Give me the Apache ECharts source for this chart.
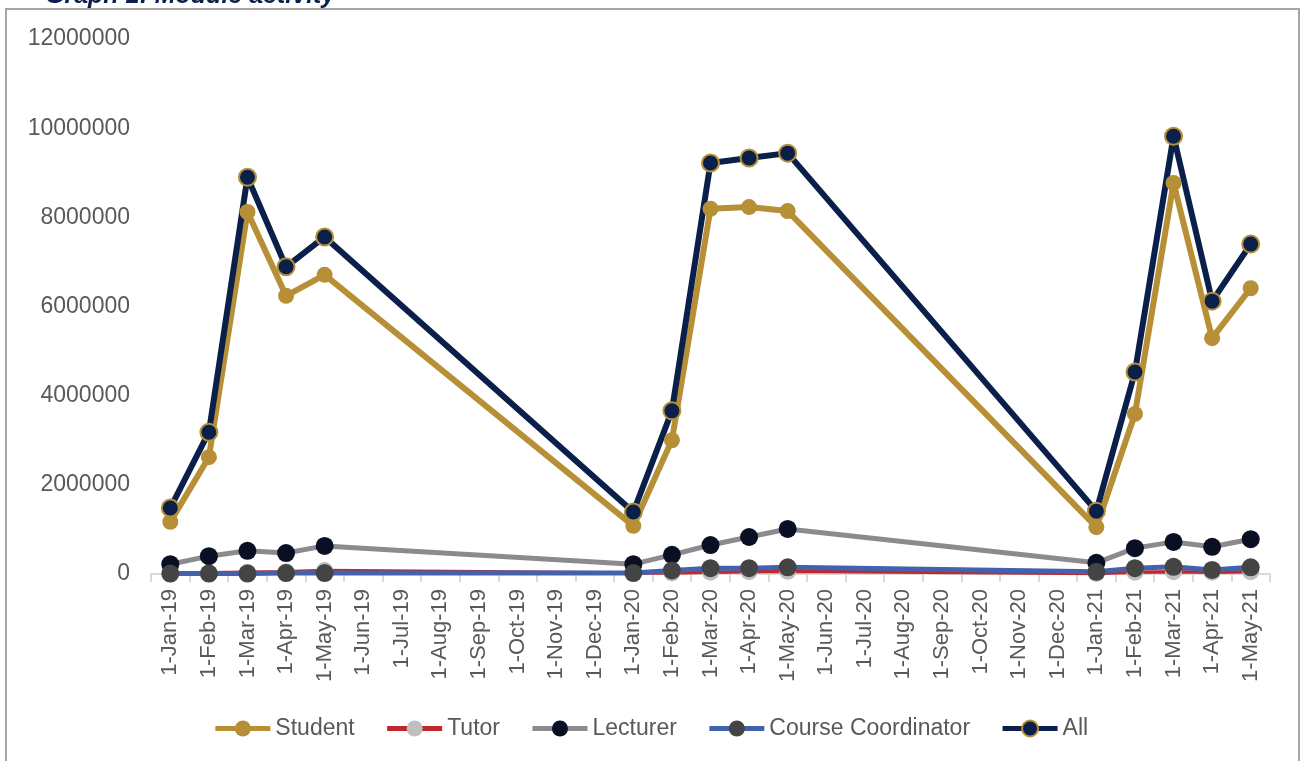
<!DOCTYPE html>
<html>
<head>
<meta charset="utf-8">
<script src="https://cdn.jsdelivr.net/npm/echarts@6/dist/echarts.min.js"></script>
<style>
html,body{margin:0;padding:0;background:#fff;}
#chart{width:1301px;height:761px;}
</style>
</head>
<body>
<div id="chart"></div>
<script>
var titleText = 'Graph 1: Module activity';
var categories = ['1-Jan-19','1-Feb-19','1-Mar-19','1-Apr-19','1-May-19','1-Jun-19','1-Jul-19','1-Aug-19','1-Sep-19','1-Oct-19','1-Nov-19','1-Dec-19',
  '1-Jan-20','1-Feb-20','1-Mar-20','1-Apr-20','1-May-20','1-Jun-20','1-Jul-20','1-Aug-20','1-Sep-20','1-Oct-20','1-Nov-20','1-Dec-20',
  '1-Jan-21','1-Feb-21','1-Mar-21','1-Apr-21','1-May-21'];
var yTicks = [0, 2000000, 4000000, 6000000, 8000000, 10000000, 12000000];
var _ = null;
var student = [1170000,2620000,8120000,6240000,6710000,_,_,_,_,_,_,_,
  1080000,3000000,8190000,8230000,8140000,_,_,_,_,_,_,_,
  1050000,3590000,8770000,5290000,6410000];
var tutor = [20000,30000,40000,50000,80000,_,_,_,_,_,_,_,
  20000,20000,40000,50000,60000,_,_,_,_,_,_,_,
  10000,40000,50000,40000,50000];
var lecturer = [220000,400000,520000,470000,630000,_,_,_,_,_,_,_,
  220000,430000,650000,830000,1010000,_,_,_,_,_,_,_,
  250000,580000,720000,610000,780000];
var courseCoordinator = [10000,10000,10000,20000,20000,_,_,_,_,_,_,_,
  20000,80000,130000,130000,150000,_,_,_,_,_,_,_,
  50000,130000,160000,90000,150000];
var all = [1480000,3180000,8900000,6890000,7560000,_,_,_,_,_,_,_,
  1390000,3660000,9220000,9330000,9440000,_,_,_,_,_,_,_,
  1410000,4530000,9820000,6120000,7400000];

var chart = echarts.init(document.getElementById('chart'));
var font = 'Liberation Sans, Arial, sans-serif';
function ser(name, data, lineColor, markerColor, size, lw, border) {
  return {
    name: name, type: 'line', data: data, connectNulls: true,
    symbol: 'circle', symbolSize: size,
    lineStyle: {color: lineColor, width: lw},
    itemStyle: {color: markerColor, borderColor: border || markerColor, borderWidth: border ? 2 : 0},
    emphasis: {disabled: true},
    animation: false
  };
}
chart.setOption({
  animation: false,
  graphic: [
    {type: 'rect', shape: {x: 6, y: 9, width: 1293, height: 800}, style: {fill: 'none', stroke: '#a6a6a6', lineWidth: 2}, z: -1},
    {type: 'text', left: 45, top: -16, style: {text: titleText, font: 'italic bold 25px ' + font, fill: '#0b1f4b'}}
  ],
  grid: {left: 151, right: 31, top: 39, bottom: 187, containLabel: false},
  legend: {
    bottom: 16, left: 'center', itemWidth: 55, itemHeight: 20, itemGap: 30,
    lineStyle: {width: 5},
    textStyle: {fontFamily: font, fontSize: 23, color: '#595959'},
    data: ['Student','Tutor','Lecturer','Course Coordinator','All']
  },
  xAxis: {
    type: 'category', data: categories, boundaryGap: true,
    axisLine: {lineStyle: {color: '#d9d9d9', width: 2}},
    axisTick: {show: true, length: 8, lineStyle: {color: '#d9d9d9', width: 2}},
    axisLabel: {rotate: 90, interval: 0, margin: 15, fontFamily: font, fontSize: 22, color: '#595959'},
    splitLine: {show: false}
  },
  yAxis: {
    type: 'value', min: 0, max: 12000000, interval: 2000000,
    axisLine: {show: false}, axisTick: {show: false}, splitLine: {show: false},
    axisLabel: {margin: 21, fontFamily: font, fontSize: 23, color: '#595959',
      formatter: function(v){ return yTicks.indexOf(v) >= 0 ? String(v) : ''; }}
  },
  series: [
    ser('Student', student, '#b68f36', '#b68f36', 16, 6),
    ser('Tutor', tutor, '#c0282d', '#bfbfbf', 17, 3.5),
    ser('Lecturer', lecturer, '#8b8b8f', '#0a0f24', 18, 5),
    ser('Course Coordinator', courseCoordinator, '#4262ad', '#444444', 18, 5),
    ser('All', all, '#0b1f4b', '#0b1f4b', 17, 6, '#b68f36')
  ]
});
</script>
</body>
</html>
